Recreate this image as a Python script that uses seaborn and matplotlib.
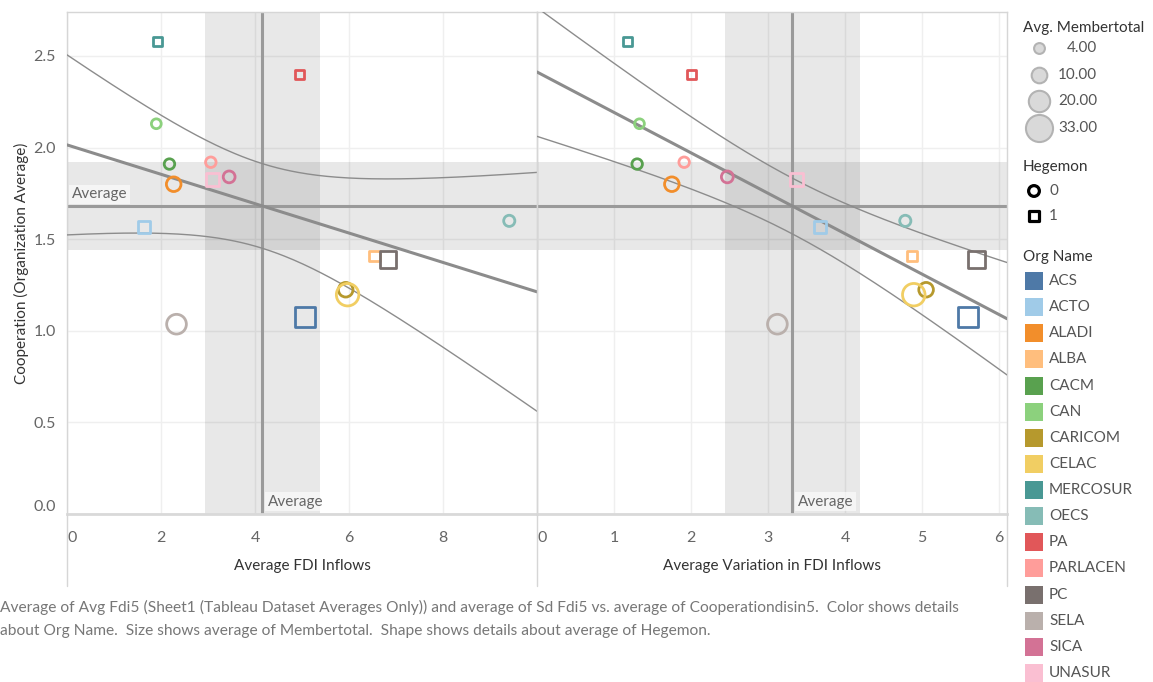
import numpy as np
import pandas as pd
import matplotlib
matplotlib.use("Agg")
import matplotlib.pyplot as plt
import seaborn as sns
from matplotlib.patches import Rectangle

# ============================================
# DATA
# ============================================
org_names = ["ACS", "ACTO", "ALADI", "ALBA", "CACM", "CAN", "CARICOM", "CELAC",
             "MERCOSUR", "OECS", "PA", "PARLACEN", "PC", "SELA", "SICA", "UNASUR"]
avg_fdi = [5.07, 1.63, 2.27, 6.54, 2.18, 1.90, 5.93, 5.97,
           1.92, 9.41, 4.94, 3.06, 6.83, 2.33, 3.45, 3.09]
sd_fdi = [5.59, 3.67, 1.75, 4.87, 1.30, 1.33, 5.05, 4.89,
          1.18, 4.78, 2.01, 1.91, 5.71, 3.12, 2.47, 3.37]
cooperation = [1.075, 1.565, 1.80, 1.408, 1.91, 2.13, 1.224, 1.197,
               2.58, 1.60, 2.40, 1.92, 1.39, 1.036, 1.84, 1.825]
member_total = [25, 8, 13, 6, 6, 5, 13, 33, 4, 7, 4, 6, 18, 25, 8, 10]
hegemon = [1, 1, 0, 1, 0, 0, 0, 0, 1, 0, 1, 0, 1, 0, 0, 1]
org_colors = ["#4E79A7", "#A0CBE8", "#F28E2B", "#FFBE7D", "#59A14F", "#8CD17D",
              "#B6992D", "#F1CE63", "#499894", "#86BCB6", "#E15759", "#FF9D9A",
              "#79706E", "#BAB0AC", "#D37295", "#FABFD2"]
size_legend_values = [4, 10, 20, 33]

df = pd.DataFrame({"org": org_names, "avg_fdi": avg_fdi, "sd_fdi": sd_fdi,
                   "cooperation": cooperation, "members": member_total,
                   "hegemon": hegemon})
palette = dict(zip(org_names, org_colors))

sns.set_theme(style="white")
plt.rcParams["font.family"] = ["Lato", "DejaVu Sans"]

SIZES = (42, 262)
T_MEAN = 2.131  # t(0.975, df=15) for the 95% band around the average
T_FIT = 2.145   # t(0.975, df=14) for the trend line confidence band

W, H = 1153, 682
fig = plt.figure(figsize=(W / 100, H / 100), dpi=100)
ax_left = fig.add_axes([67 / W, (H - 514) / H, 470 / W, 502 / H])
ax_right = fig.add_axes([537 / W, (H - 514) / H, 470 / W, 502 / H])

y = df["cooperation"].to_numpy()
n = len(y)
y_mean = y.mean()
y_half = T_MEAN * y.std(ddof=1) / np.sqrt(n)

panels = [
    (ax_left, "avg_fdi", "Average FDI Inflows", 10.0, [0, 2, 4, 6, 8]),
    (ax_right, "sd_fdi", "Average Variation in FDI Inflows", 6.1, [0, 1, 2, 3, 4, 5, 6]),
]

for ax, col, title, xmax, ticks in panels:
    x = df[col].to_numpy()
    ax.set_facecolor("none")
    ax.set_xlim(0, xmax)
    ax.set_ylim(0, 2.74)

    # reference lines + 95% distribution bands
    x_mean = x.mean()
    x_half = T_MEAN * x.std(ddof=1) / np.sqrt(n)
    ax.axvspan(x_mean - x_half, x_mean + x_half, color="black", alpha=0.09, lw=0, zorder=1)
    ax.axhspan(y_mean - y_half, y_mean + y_half, color="black", alpha=0.09, lw=0, zorder=1)
    ax.axvline(x_mean, color="#9a9a9a", lw=2.2, zorder=2)
    ax.axhline(y_mean, color="#9a9a9a", lw=2.2, zorder=2)

    # linear trend with confidence bands
    b, a = np.polyfit(x, y, 1)
    xs = np.linspace(0, xmax, 200)
    fit = a + b * xs
    resid = y - (a + b * x)
    s = np.sqrt((resid ** 2).sum() / (n - 2))
    sxx = ((x - x_mean) ** 2).sum()
    se = s * np.sqrt(1 / n + (xs - x_mean) ** 2 / sxx)
    ax.plot(xs, fit, color="#8c8c8c", lw=2.2, zorder=3)
    ax.plot(xs, fit + T_FIT * se, color="#8c8c8c", lw=1.0, zorder=3)
    ax.plot(xs, fit - T_FIT * se, color="#8c8c8c", lw=1.0, zorder=3)

    # the marks
    sns.scatterplot(data=df, x=col, y="cooperation", hue="org", palette=palette,
                    size="members", sizes=SIZES, size_norm=(4, 33),
                    style="hegemon", markers={0: "o", 1: "s"},
                    legend=False, ax=ax, zorder=5)
    pts = ax.collections[-1]
    pts.set_edgecolors(pts.get_facecolors())
    pts.set_facecolors("none")
    pts.set_linewidths(2.0)

    # "Average" labels
    ax.text(x_mean + 0.012 * xmax, 0.03, "Average", ha="left", va="bottom",
            fontsize=11, color="#666666", zorder=6,
            bbox=dict(fc="white", ec="none", alpha=0.6, pad=2))

    # axes styling
    ax.set_xticks(ticks)
    ax.set_xticklabels([str(t) for t in ticks])
    ax.get_xticklabels()[0].set_horizontalalignment("left")
    ax.set_yticks([0, 0.5, 1.0, 1.5, 2.0, 2.5])
    ax.set_yticklabels(["0.0", "0.5", "1.0", "1.5", "2.0", "2.5"])
    ax.grid(True, color="#efefef", lw=1)
    ax.set_axisbelow(True)
    ax.tick_params(axis="x", length=0, pad=12, labelsize=11.5, labelcolor="#666666")
    ax.tick_params(axis="y", length=0, pad=8, labelsize=11.5, labelcolor="#666666")
    for side in ["top", "left", "right"]:
        ax.spines[side].set_color("#d6d6d6")
        ax.spines[side].set_linewidth(1)
    ax.spines["bottom"].set_color("#d9d9d9")
    ax.spines["bottom"].set_linewidth(2)
    ax.set_xlabel(title, fontsize=11, color="#333333", labelpad=10)

ax_left.get_yticklabels()[0].set_verticalalignment("bottom")
ax_left.set_ylabel("Cooperation (Organization Average)", fontsize=11, color="#333333", labelpad=3)
ax_left.text(0.1, y_mean + 0.025, "Average", ha="left", va="bottom",
             fontsize=11, color="#666666", zorder=6,
             bbox=dict(fc="white", ec="none", alpha=0.6, pad=2))
ax_right.tick_params(axis="y", labelleft=False)
ax_right.set_ylabel("")

# ============================================
# OVERLAY: separators, legends, caption (pixel coords)
# ============================================
ov = fig.add_axes([0, 0, 1, 1], zorder=10)
ov.set_xlim(0, W)
ov.set_ylim(H, 0)
ov.axis("off")

for xx in [67, 537, 1007]:
    ov.plot([xx, xx], [514, 586], color="#d6d6d6", lw=1)

# size legend
ov.text(1023, 28, "Avg. Membertotal", fontsize=11, color="#333333", va="center")
for val, yy in zip(size_legend_values, [48, 75, 101, 128]):
    area = SIZES[0] + (val - 4) / (33 - 4) * (SIZES[1] - SIZES[0])
    ov.scatter(1039, yy, s=area * 1.45, fc="#d9d9d9", ec="#b3b3b3", lw=1.5)
    ov.text(1097, yy, f"{val:.2f}", fontsize=11, color="#555555", ha="right", va="center")

# shape legend
ov.text(1023, 167, "Hegemon", fontsize=11, color="#333333", va="center")
ov.scatter(1034, 191, s=60, marker="o", fc="none", ec="black", lw=2.3)
ov.text(1049, 191, "0", fontsize=11, color="#555555", va="center")
ov.scatter(1034, 216, s=55, marker="s", fc="none", ec="black", lw=2.3)
ov.text(1049, 216, "1", fontsize=11, color="#555555", va="center")

# color legend
ov.text(1023, 257, "Org Name", fontsize=11, color="#333333", va="center")
for i, (name, c) in enumerate(zip(org_names, org_colors)):
    yy = 281 + i * 26.13
    ov.add_patch(Rectangle((1025, yy - 9), 18, 18, color=c, lw=0))
    ov.text(1049, yy, name, fontsize=11, color="#555555", va="center")

caption = ["Average of Avg Fdi5 (Sheet1 (Tableau Dataset Averages Only)) and average of Sd Fdi5 vs. average of Cooperationdisin5.  Color shows details",
           "about Org Name.  Size shows average of Membertotal.  Shape shows details about average of Hegemon."]
ov.text(0, 607, caption[0], fontsize=11.2, color="#777777", va="center")
ov.text(0, 631, caption[1], fontsize=11.2, color="#777777", va="center")

plt.savefig("out.png", dpi=100)
